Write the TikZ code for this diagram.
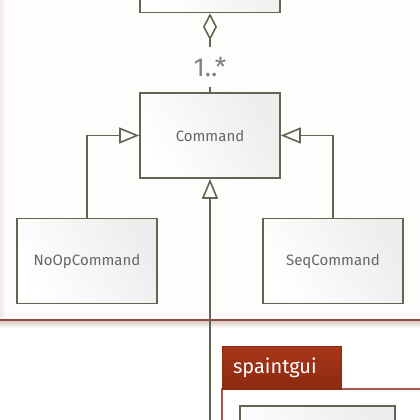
\documentclass[tikz,border=0pt]{standalone}
\usepackage{fontspec}
\setmainfont{Fira Sans}
\usetikzlibrary{arrows.meta}
\definecolor{umlline}{HTML}{5F6652}
\definecolor{umltext}{HTML}{666666}
\definecolor{pkgbg}{HTML}{FFFDFB}
\definecolor{pkgedge}{HTML}{8A4A40}
\definecolor{pkgtabA}{HTML}{A83619}
\definecolor{pkgtabB}{HTML}{8C2A10}
\definecolor{pkgbody}{HTML}{A85A4E}
\tikzset{
  umlclass/.style={draw=umlline, line width=1.6pt, left color=black!7, right color=white,
    shading angle=-60, minimum width=140pt, minimum height=85pt, inner sep=0pt,
    font=\fontsize{15}{17}\selectfont, text=umltext},
  gen/.style={draw=umlline, line width=1.6pt, -{Triangle[open, length=20pt, width=16pt, line width=1.6pt]}},
  agg/.style={draw=umlline, line width=1.6pt, {Diamond[open, length=27pt, width=14pt, line width=1.6pt]}-},
  assoc/.style={draw=umlline, line width=1.6pt},
  mult/.style={font=\fontsize{26}{28}\selectfont, text=black!50, minimum height=40pt, inner sep=0pt},
  pkgtab/.style={top color=pkgtabA, bottom color=pkgtabB, draw=pkgtabB, line width=0.8pt,
    minimum width=119pt, minimum height=43pt, inner sep=0pt, text=white,
    font=\fontsize{20}{22}\selectfont, anchor=north west}
}
\begin{document}
\begin{tikzpicture}[x=1pt, y=-1pt]
\useasboundingbox (0,0) rectangle (420,420);
\clip (0,0) rectangle (420,420);
% upper package background
\fill[pkgbg] (0,-5) rectangle (425,320);
\shade[left color=pkgedge!12, right color=pkgbg] (0,-5) rectangle (6,320);
\shade[top color=pkgedge!30, bottom color=white] (0,321) rectangle (425,328);
\draw[pkgedge, line width=1.8pt] (-2,320) -- (425,320);
% classes
\node[umlclass] (top) at (210,-30) {};
\node[umlclass] (cmd) at (210,135.5) {Command};
\node[umlclass] (noop) at (87,261) {NoOpCommand};
\node[umlclass] (seq) at (333,261) {SeqCommand};
% multiplicity and aggregation
\node[mult] (m) at (210,67) {1..*};
\draw[agg] (top.south) -- (m.north);
\draw[assoc] (m.south) -- (cmd.north);
% generalizations
\draw[gen] (noop.north) |- (cmd.west);
\draw[gen] (seq.north) |- (cmd.east);
\coordinate (below) at (210,430);
\draw[gen] (below) -- (cmd.south);
% lower package
\draw[pkgbody, line width=1.2pt, fill=white] (222,389) rectangle (430,440);
\node[pkgtab] (tab) at (222,346) {\hspace*{-14pt}spaintgui};
\node[umlclass, minimum width=155pt, anchor=north west] (inner) at (239,405) {};
\end{tikzpicture}
\end{document}
